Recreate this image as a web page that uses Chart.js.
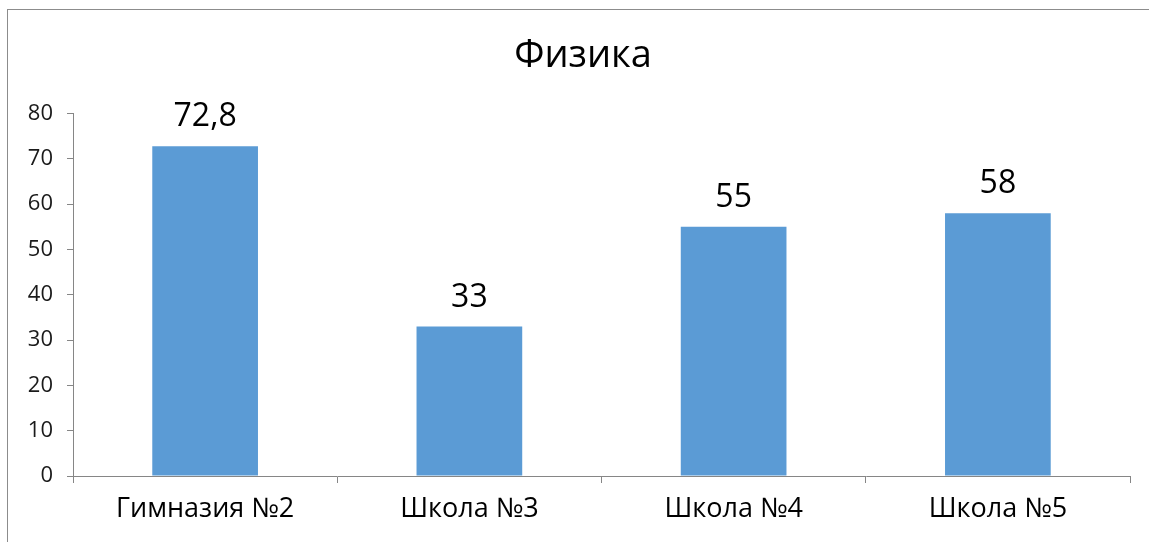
<!DOCTYPE html>
<html>
<head>
<meta charset="utf-8">
<script src="https://cdn.jsdelivr.net/npm/chart.js@4"></script>
<style>
  html, body { margin: 0; padding: 0; background: #fff; }
  #frame {
    position: absolute; left: 7px; top: 9px; width: 1160px; height: 560px;
    border-left: 1px solid #8c8c8c; border-top: 1px solid #8c8c8c;
  }
  #wrap { position: absolute; left: 0; top: 0; width: 1149px; height: 542px; }
</style>
</head>
<body>
<div id="frame"></div>
<div id="wrap"><canvas id="barChart"></canvas></div>
<script>
// ====================
// Data
// ====================

const schools = ["Гимназия №2", "Школа №3", "Школа №4", "Школа №5"];
const scores = [72.8, 33, 55, 58];
const yTicks = [0, 10, 20, 30, 40, 50, 60, 70, 80];

const axisColor = "#868686";

// value labels above bars (comma decimal like the original)
const valueLabels = {
  id: "valueLabels",
  afterLayout(chart) {
    // title in the original sits a bit right of centre
    if (chart.titleBlock) {
      chart.titleBlock.left += 18;
      chart.titleBlock.right += 18;
    }
  },
  afterDatasetsDraw(chart) {
    const ctx = chart.ctx;
    const meta = chart.getDatasetMeta(0);
    ctx.save();
    ctx.font = "32px 'Open Sans'";
    ctx.fillStyle = "#000";
    ctx.textAlign = "center";
    ctx.textBaseline = "alphabetic";
    meta.data.forEach((bar, i) => {
      const txt = String(scores[i]).replace(".", ",");
      ctx.fillText(txt, bar.x, bar.y - 20);
    });
    ctx.restore();
  },
};

// ====================
// Bar Chart
// ====================

new Chart(document.getElementById("barChart"), {
  type: "bar",

  data: {
    labels: schools,

    datasets: [
      {
        data: scores,
        backgroundColor: "#5B9BD5",
        categoryPercentage: 1,
        barPercentage: 0.4,
      },
    ],
  },

  options: {
    responsive: true,
    maintainAspectRatio: false,
    animation: false,

    layout: {
      padding: { left: 0, right: 19, top: 0, bottom: 0 },
    },

    plugins: {
      legend: { display: false },
      tooltip: { enabled: false },
      title: {
        display: true,
        text: "Физика",
        color: "#000",
        font: { family: "'Open Sans'", size: 38, weight: "normal" },
        padding: { top: 33, bottom: 35 },
      },
    },

    scales: {
      x: {
        grid: {
          offset: true,
          drawOnChartArea: false,
          drawTicks: true,
          tickLength: 7,
          color: axisColor,
        },
        border: { color: axisColor },
        ticks: {
          color: "#000",
          padding: 10,
          font: { family: "'Open Sans'", size: 27 },
        },
        afterFit(scale) {
          scale.height = 66;
        },
      },
      y: {
        min: 0,
        max: 80,
        afterBuildTicks(scale) {
          scale.ticks = yTicks.map((v) => ({ value: v }));
        },
        grid: {
          drawOnChartArea: false,
          drawTicks: true,
          tickLength: 6,
          color: axisColor,
        },
        border: { color: axisColor },
        ticks: {
          color: "#1a1a1a",
          padding: 14,
          font: { family: "'Open Sans'", size: 22 },
        },
        afterFit(scale) {
          scale.width = 73;
        },
      },
    },
  },

  plugins: [valueLabels],
});
</script>
</body>
</html>
